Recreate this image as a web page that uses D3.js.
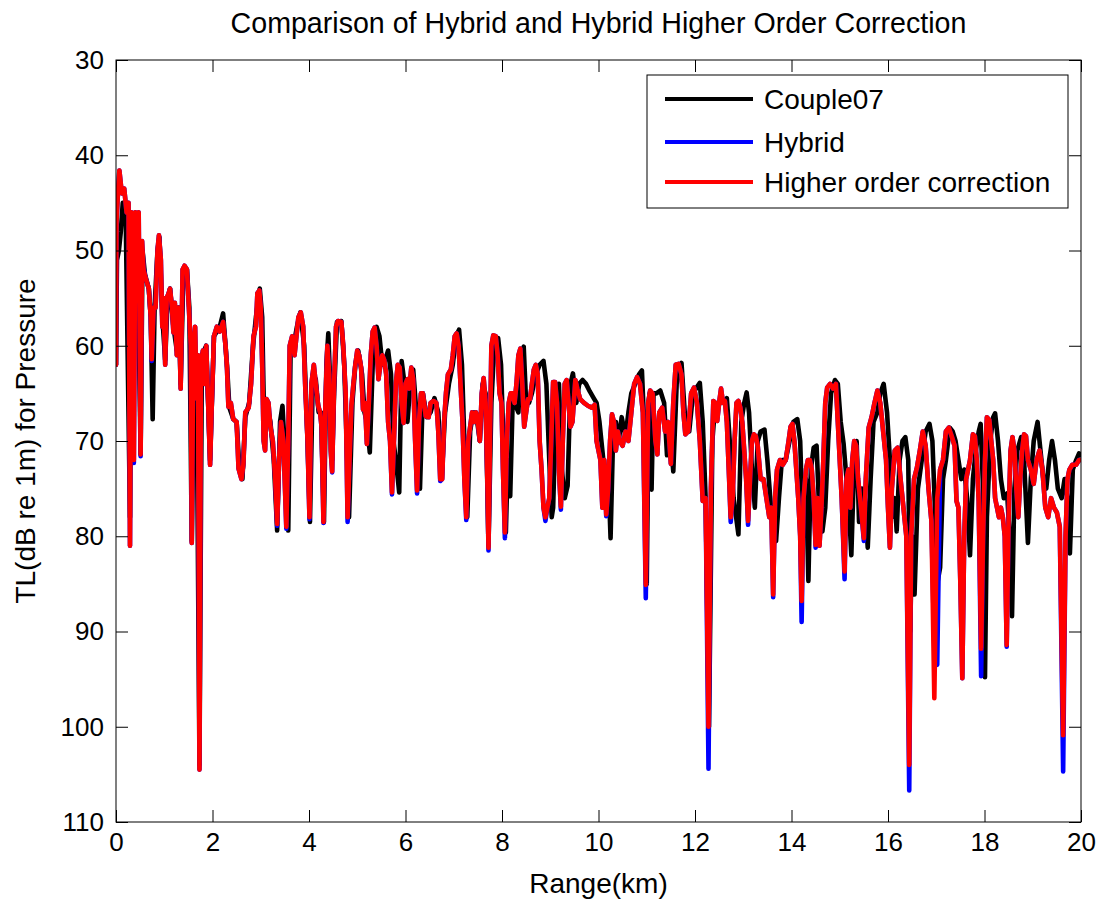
<!DOCTYPE html>
<html>
<head>
<meta charset="utf-8">
<script src="https://cdn.jsdelivr.net/npm/d3@7"></script>
<style>
  body { margin: 0; background: #fff; }
  text { font-family: "Liberation Sans", Arial, sans-serif; fill: #000; }
</style>
</head>
<body>
<div id="chart"></div>
<script>
// range samples (km) shared by the Hybrid and Higher order correction curves
var rangeKm = [
  0,0.01,0.04,0.07,0.12,0.17,0.22,0.26,0.29,0.32,
  0.35,0.37,0.40,0.44,0.47,0.51,0.54,0.57,0.62,0.68,
  0.72,0.74,0.78,0.82,0.86,0.89,0.93,0.96,0.98,1.02,
  1.05,1.09,1.12,1.16,1.19,1.22,1.26,1.29,1.31,1.34,
  1.38,1.42,1.47,1.51,1.55,1.57,1.60,1.64,1.67,1.70,
  1.73,1.76,1.80,1.83,1.87,1.91,1.95,1.98,2.03,2.09,
  2.15,2.22,2.27,2.30,2.33,2.38,2.43,
  2.50,2.54,2.60,2.64,2.68,2.75,2.80,2.85,2.90,2.93,
  2.97,3.00,3.03,3.06,3.09,3.12,3.16,3.20,3.25,3.30,
  3.34,3.38,3.42,3.47,3.53,3.57,3.60,3.65,3.70,3.74,
  3.78,3.83,3.88,3.92,3.97,4.01,4.05,4.10,4.14,4.19,
  4.23,4.26,4.30,4.34,4.38,4.42,4.45,4.48,4.52,4.56,
  4.60,4.67,4.71,4.76,4.80,4.84,4.88,
  4.92,4.96,5.00,5.04,5.08,5.12,5.16,5.20,5.24,5.28,
  5.32,5.36,5.40,5.44,5.48,5.52,5.56,5.60,5.64,5.68,
  5.72,5.76,5.80,5.84,5.88,5.92,5.96,6.00,6.04,6.08,
  6.12,6.16,6.20,6.24,6.28,6.32,6.36,6.42,6.48,6.52,
  6.58,6.64,6.68,6.72,6.76,6.80,6.84,6.88,6.94,6.98,
  7.02,7.06,7.10,7.14,7.18,7.22,7.26,7.30,7.34,7.38,
  7.42,7.46,7.50,7.54,7.58,7.62,7.66,7.70,7.72,7.75,
  7.78,7.82,7.87,7.91,7.95,7.99,8.02,8.06,8.10,8.14,
  8.18,8.22,8.26,8.30,8.34,8.38,8.42,8.46,8.50,8.54,
  8.58,8.62,8.66,8.70,8.74,8.78,8.82,8.86,8.90,8.94,
  8.98,9.02,9.06,9.10,9.14,9.18,9.22,9.26,9.30,9.34,
  9.38,9.42,9.46,9.52,9.56,9.62,9.70,9.78,9.86,
  9.92,9.96,10.00,10.04,10.08,10.12,10.16,10.20,10.24,10.28,
  10.32,10.36,10.40,10.44,10.50,10.56,10.62,10.68,10.74,10.80,
  10.86,10.92,10.98,11.03,11.07,11.12,11.18,11.22,11.26,11.32,
  11.38,11.44,11.50,11.55,11.60,11.66,11.72,11.76,11.80,11.86,
  11.92,11.98,12.04,12.10,12.16,12.22,12.28,12.33,12.38,
  12.42,12.46,12.50,12.54,12.58,12.62,12.66,12.70,12.74,12.78,
  12.82,12.86,12.90,12.94,12.98,13.02,13.06,13.10,13.14,13.18,
  13.22,13.26,13.30,13.36,13.42,13.48,13.54,13.58,13.62,13.66,
  13.70,13.76,13.82,13.88,13.94,13.98,14.02,14.06,14.10,14.14,
  14.18,14.21,14.25,14.30,14.34,14.38,14.42,14.46,14.50,14.54,
  14.58,14.62,14.66,14.70,14.74,14.80,14.86,
  14.92,14.96,15.00,15.04,15.10,15.14,15.18,15.22,15.26,15.30,
  15.34,15.38,15.44,15.50,15.54,15.60,15.66,15.72,15.78,15.84,
  15.90,15.96,16.00,16.04,16.08,16.14,16.20,16.26,16.32,16.38,
  16.44,16.48,16.54,16.60,16.66,16.72,16.78,16.84,16.90,16.96,
  17.02,17.08,17.14,17.20,17.26,17.32,
  17.38,17.42,17.46,17.50,17.54,17.58,17.62,17.66,17.70,17.76,
  17.80,17.84,17.88,17.93,17.97,18.01,18.05,18.10,18.14,18.18,
  18.22,18.26,18.30,18.34,18.38,18.42,18.46,18.50,18.54,18.58,
  18.62,18.66,18.70,18.74,18.78,18.82,18.86,18.90,18.96,19.02,
  19.08,19.14,19.20,19.26,19.32,19.38,19.44,19.50,19.56,19.63,
  19.68,19.72,19.76,19.82,19.90,19.96,20.00
];

// TL (dB re 1m), higher order correction
var higherOrder = [
  62,47,44,41.6,44,43.5,46,45,81,46,
  47,72,46,48,46,71.4,49,52,53,54,
  57,61.4,56,56,50,48.4,51,58,55,62,
  55,54.5,54,56,58.6,55.5,61,56,57,64.5,
  52,51.6,52,56,60,80.7,61,58,65.5,61,
  104.5,62,60.5,64,60,66,72.5,67,59,58,
  58.5,57.5,60,62.3,66.4,66,67.7,
  68,72.9,74,72.5,67,66.5,64,59,58,54.5,
  54.2,56,62,70,71,65.6,66,68.5,70,74,
  78.7,72,68,70,79,70,60,59,61,59,
  57,56.5,58,64,70,78,64,62,64,66.3,
  67,68.5,78.5,66,60,63,71,73.2,64,58,
  57.4,57.5,60,65,78,72,66.3,
  64,62,60.5,61,62.3,66.7,66,70.3,66,61,
  58.5,58.1,60,63.5,62,61,61.5,63,68,70,
  75.4,70,64,62,62.3,66,68.1,64,63.5,64.5,
  62.3,63.5,70,75.2,68,65,65,67.4,67.5,66,
  65.8,66,69,74,74,68,64.9,63,62.5,61,
  59,58.7,60,64,67.8,74,78,70,68.5,67,
  68,67,68,70,65,63.4,66,75,81.2,70,
  60,58.9,59,61,65,66,73,79.6,70,66,
  65,65,66,64,61,60.3,64,68.5,67,65.6,
  65.6,64,62.5,62,63,70,73,77,78,77,
  76,70,63.8,63.8,66,73,76.9,70,64,63.6,
  66,68.5,68,63.6,64.5,65.6,66,66.3,66.5,
  66.2,70,71,72,77,72,77.7,75,70,67.2,
  68,71,69,70,70.5,69,70,67,64,63.3,
  64,67,85.1,66,64.7,65,70,71.4,67,66.5,
  69,68,72.4,66,62,61.9,63,67,69.3,69,
  65,64.4,66,70,76.3,76,100,75,65.8,
  66,67.9,66,64.5,66,65.8,68,73,78,76,
  70,66,65.8,66.5,68,71,74,78.4,74,70,
  69.3,69.5,70.5,74,74,76,78,77,86.1,76,
  73,72,72.5,72,70,68.5,68.2,70,73,76,
  80,86.8,76,73,72,72,73,76,80.9,76,
  81,77,72,66,64.4,64,64.5,
  64,68,72,76,83.7,74,73,77,72,70,
  70.5,74,77,80.2,74,68.6,67.5,66,64.7,66,
  69,72,77,81.2,75,71,70.7,74,77,80,
  104,80,74,72.8,71,69,70.5,75,78.4,97,
  76,73,72,69,68.6,69.5,
  70.5,76.3,77,85,94.9,80,74,73,72,69.3,
  69.5,72,76.3,91.8,80,72,67.5,67.8,70,72,
  76,77,78,77,78,80,91.4,78,71,69.6,
  71,75,78,74,71,69.3,69.5,72,73,74.5,
  72,71,73,77,78,76,77,77.5,79,100.9,
  80,74,73,72.5,72.5,72,72
];

// TL (dB re 1m), hybrid
var hybrid = [
  62,47,44,41.6,44,43.5,46,45,81,46,
  47,72.3,46,48,46,71.6,49,51.8,53,54,
  57,61.6,56,56,50,48.4,51,58,55,62,
  55,54.5,54,56,58.6,55.5,61,56,57,64.5,
  52,51.6,52,56,60,80.7,61,58,65.5,61,
  104.5,62,60.5,64,60,66,72.5,67,59,58,
  58.5,57.5,60,62.3,66.4,66,67.7,
  68,72.9,74,72.5,67,66.5,64,59,58,54.5,
  54.2,56,62,70,71,65.6,66,68.5,70,74,
  78.9,72,68,70,79.2,70,60,59,61,59,
  57,56.5,58,64,70,78.2,64,62,64,66.3,
  67,68.5,78.6,66,60,63,71,73.3,64,58,
  57.4,57.5,60,65,78.5,72,66.3,
  64,62,60.5,61,62.3,66.7,66,70.3,66,61,
  58.5,58.1,60,63.5,62,61,61.5,63,68,70,
  75.6,70,64,62,62.3,66,68.1,64,63.5,64.5,
  62.3,63.5,70,75.5,68,65,65,67.4,67.5,66,
  65.8,66,69,74.2,74,68,64.9,63,62.5,61,
  59,58.7,60,64,67.8,74,78.3,70,68.5,67,
  68,67,68,70,65,63.4,66,75,81.5,70,
  60,58.9,59,61,65,66,73,80.2,70,66,
  65,65,66,64,61,60.3,64,68.5,67,65.6,
  65.6,64,62.5,62,63,70,73,77,78.4,77,
  76,70,63.8,63.8,66,73,77.2,70,64,63.6,
  66,68.5,68,63.6,64.5,65.6,66,66.3,66.5,
  66.2,70,71,72,77,72,77.9,75,70,67.2,
  68,71,69,70,70.5,69,70,67,64,63.3,
  64,67,86.5,66,64.7,65,70,71.4,67,66.5,
  69,68,72.4,66,62,61.9,63,67,69.3,69,
  65,64.4,66,70,76.3,76,104.4,75,65.8,
  66,67.9,66,64.5,66,65.8,68,73,78.5,76,
  70,66,65.8,66.5,68,71,74,78.8,74,70,
  69.3,69.5,70.5,74,74,76,78,77,86.4,76,
  73,72,72.5,72,70,68.5,68.2,70,73,76,
  80,89,76,73,72,72,73,76,81.2,76,
  81,77,72,66,64.4,64,64.5,
  64,68,72,76,84.5,74,73,77,72,70,
  70.5,74,77,80.5,74,68.6,67.5,66,64.7,66,
  69,72,77,81.2,75,71,70.7,74,77,80,
  106.7,80,74,72.8,71,69,70.5,75,78.4,92,
  93.5,73,72,69,68.6,69.5,
  70.5,76.3,77,85,94.9,80,74,73,72,69.3,
  69.5,72,76.3,94.7,80,72,67.5,67.8,70,72,
  76,77,78,77,78,80,91.6,78,71,69.6,
  71,75,78,74,71,69.3,69.5,72,73,74.5,
  72,71,73,77,78,76,77,77.5,79,104.7,
  80,74,73,72.5,72.5,72,72
];

// Couple07 reference solution, own range samples
var coupleKm = [
  0,0.02,0.06,0.1,0.14,0.2,0.29,0.33,0.4,0.44,
  0.51,0.55,0.6,0.68,0.72,0.76,0.8,0.86,0.9,0.96,
  1.02,1.07,1.12,1.19,1.26,1.3,1.34,1.4,1.47,1.52,
  1.57,1.62,1.68,1.73,1.78,1.87,1.95,2.03,2.15,2.22,
  2.3,2.35,2.43,
  2.5,2.56,2.62,2.68,2.76,2.84,2.9,2.98,3.03,3.07,
  3.12,3.2,3.27,3.34,3.4,3.45,3.5,3.57,3.62,3.68,
  3.75,3.82,3.9,3.97,4.02,4.08,4.14,4.2,4.25,4.31,
  4.36,4.4,4.44,4.48,4.52,4.58,4.67,4.73,4.83,4.9,
  4.96,5.02,5.1,5.15,5.2,5.26,5.32,5.4,5.46,5.52,
  5.58,5.64,5.7,5.75,5.8,5.87,5.92,5.98,6.04,6.1,
  6.16,6.24,6.3,6.36,6.44,6.52,6.6,6.68,6.75,6.82,
  6.9,6.98,7.05,7.11,7.17,7.22,7.28,7.34,7.4,
  7.46,7.54,7.6,7.66,7.72,7.78,7.84,7.92,7.98,8.04,
  8.08,8.12,8.17,8.22,8.3,8.34,8.4,8.45,8.5,8.56,
  8.62,8.7,8.78,8.86,8.92,8.98,9.03,9.06,9.12,9.18,
  9.24,9.3,9.36,9.42,9.47,9.54,9.6,9.67,9.74,9.82,
  9.9,
  9.96,10.02,10.08,10.14,10.2,10.25,10.3,10.36,10.42,10.48,
  10.56,10.62,10.68,10.76,10.84,10.9,10.96,11,11.04,11.06,
  11.1,11.14,11.2,11.28,11.36,11.42,11.5,11.55,11.62,11.72,
  11.8,11.88,11.96,12.02,12.1,12.16,12.22,12.29,12.36,12.42,
  12.48,12.54,12.6,12.66,12.72,12.8,12.9,12.96,13.02,13.07,
  13.12,13.18,13.24,13.3,13.36,13.44,13.5,13.56,13.62,13.68,
  13.74,13.8,13.88,13.96,14.04,14.12,14.18,14.24,14.3,14.35,
  14.4,14.46,14.52,14.58,14.64,14.7,14.76,14.82,14.9,14.96,
  15.02,15.08,15.14,15.2,15.24,15.3,15.35,15.4,15.46,15.52,
  15.58,15.64,15.7,15.78,15.84,15.91,15.98,16.04,16.08,16.14,
  16.18,16.24,16.3,16.36,16.42,16.46,16.5,16.55,16.62,16.7,
  16.78,16.86,16.92,16.98,17.02,17.08,17.14,17.2,17.28,17.34,
  17.4,17.46,17.52,17.58,17.64,17.7,17.76,17.82,17.88,17.92,
  17.97,18.01,18.05,18.12,18.18,18.22,18.28,18.34,18.4,18.47,
  18.52,18.57,18.62,18.68,18.76,18.82,18.9,18.96,19.02,19.1,
  19.16,19.22,19.28,19.34,19.4,19.46,19.52,19.56,19.6,19.66,
  19.72,19.77,19.83,19.9,19.96,20
];

var couple07 = [
  62,51,50,48,45,46,78,47,47,48,
  71.4,50,52.5,54,57,67.7,56,50,48.6,57,
  61.5,55,54,58,60.5,56,64,52,52,56,
  80.5,60,70,104,61,60,72,59,58,56.6,
  62,66.5,67.7,
  68,73,74,67.5,66,60,57,54,57,68,
  66,68,72,79.4,68,66.3,71,79.4,60,60,
  58,56.5,60,70,78.5,63,63.5,67,67,78.5,
  62,58.7,64,72,65,57.5,57.4,62,78,66,
  62,60.5,63,67,68,71.2,62,58,59,62,
  61.5,60.5,63,70,72,75.4,61.6,64,68,64,
  62.5,68,75,65,67.5,67,65.5,67,74,67,
  64,62,59,58.3,62,70,78,69,67,
  67,70,64,65,81,66,60,59.2,62,72,
  79.6,72,75.8,66,66.5,67,61,60.1,66,66,
  65,63,62,61.6,64,72,78,77,66,64,
  73,76,74.7,64,62.9,66,64,63.6,64,64.8,
  65.5,
  66,68,71,74,73,80.2,70,68,70,67.5,
  69.5,67,65,64,63,62.6,70,85,66,65,
  75.1,65,65,64.7,66,71.5,70,73.2,64,61.8,
  68,69,65,64.5,63.9,68,76,100,70,66,
  66.5,65.5,66,65.5,70,76,79.8,68,66,64.9,
  67,73,77,70,69,68.8,72,76,80,80.5,
  76,72,72,70,68,67.7,70,80,74,84.7,
  73,70.7,70.5,78,79.5,77,70,65,63.6,64,
  68,70.3,74,78,82,72,70,78.5,75,76,
  81.2,74,68,67,65,64,67,72,78,76,
  79.5,72,70,69.6,72,90,80,86.1,75,72,
  69,68.2,70,78,85,83.3,74,72,68.6,69,
  70,72,74,73,76,82,74,71,69,68.2,
  75,94.8,78,70,67.5,67.1,70,74,76,75.5,
  80,88.4,75,71,69.6,72,80.7,74,70,68,
  71,74,75,72,70,72,75,75.5,76,74,
  76,81.8,73,72,71.3,71.5
];

var xTicks = [0, 2, 4, 6, 8, 10, 12, 14, 16, 18, 20];
var yTicks = [30, 40, 50, 60, 70, 80, 90, 100, 110];

var seriesList = [
  { name: 'Couple07', color: '#000000', km: coupleKm, tl: couple07 },
  { name: 'Hybrid', color: '#0000ff', km: rangeKm, tl: hybrid },
  { name: 'Higher order correction', color: '#ff0000', km: rangeKm, tl: higherOrder }
];

var width = 1105,
    height = 903;
var plot = { left: 116, top: 60, right: 1081, bottom: 822 };

var svg = d3.select('#chart')
    .append('svg')
    .attr('width', width)
    .attr('height', height);

var x = d3.scaleLinear().domain([0, 20]).range([plot.left, plot.right]);
var y = d3.scaleLinear().domain([30, 110]).range([plot.top, plot.bottom]);

svg.append('clipPath')
    .attr('id', 'clip')
  .append('rect')
    .attr('x', plot.left)
    .attr('y', plot.top)
    .attr('width', plot.right - plot.left)
    .attr('height', plot.bottom - plot.top);

// curves, black first so the red one ends on top
var lines = svg.append('g').attr('clip-path', 'url(#clip)');
seriesList.forEach(function (s) {
  var line = d3.line()
      .x(function (i) { return x(s.km[i]); })
      .y(function (i) { return y(s.tl[i]); });
  lines.append('path')
      .attr('d', line(d3.range(s.km.length)))
      .attr('fill', 'none')
      .attr('stroke', s.color)
      .attr('stroke-width', 4.6)
      .attr('stroke-linejoin', 'round')
      .attr('stroke-linecap', 'round');
});

// axes, ticks pointing inwards on all four sides
var tickLen = 12;
svg.append('g')
    .attr('transform', 'translate(0,' + plot.bottom + ')')
    .call(d3.axisBottom(x).tickValues(xTicks).tickSizeInner(-tickLen).tickSizeOuter(0).tickPadding(11));
svg.append('g')
    .attr('transform', 'translate(' + plot.left + ',0)')
    .call(d3.axisLeft(y).tickValues(yTicks).tickSizeInner(-tickLen).tickSizeOuter(0).tickPadding(12));
svg.append('g')
    .attr('transform', 'translate(0,' + plot.top + ')')
    .call(d3.axisTop(x).tickValues(xTicks).tickSizeInner(-tickLen).tickSizeOuter(0).tickFormat(''));
svg.append('g')
    .attr('transform', 'translate(' + plot.right + ',0)')
    .call(d3.axisRight(y).tickValues(yTicks).tickSizeInner(-tickLen).tickSizeOuter(0).tickFormat(''));

svg.selectAll('.domain').remove();
svg.selectAll('.tick line').attr('stroke', '#000');
svg.selectAll('.tick text')
    .style('font-family', '"Liberation Sans", Arial, sans-serif')
    .style('font-size', '26px')
    .attr('fill', '#000');

svg.append('rect')
    .attr('x', plot.left)
    .attr('y', plot.top)
    .attr('width', plot.right - plot.left)
    .attr('height', plot.bottom - plot.top)
    .attr('fill', 'none')
    .attr('stroke', '#000')
    .attr('stroke-width', 1);

// title and axis labels
svg.append('text')
    .attr('x', (plot.left + plot.right) / 2)
    .attr('y', 33)
    .attr('text-anchor', 'middle')
    .style('font-size', '28.6px')
    .text('Comparison of Hybrid and Hybrid Higher Order Correction');

svg.append('text')
    .attr('x', (plot.left + plot.right) / 2)
    .attr('y', 893)
    .attr('text-anchor', 'middle')
    .style('font-size', '28px')
    .text('Range(km)');

svg.append('text')
    .attr('transform', 'translate(35,' + (plot.top + plot.bottom) / 2 + ') rotate(-90)')
    .attr('text-anchor', 'middle')
    .style('font-size', '28px')
    .text('TL(dB re 1m) for Pressure');

// legend
var legend = svg.append('g').attr('transform', 'translate(647,75)');
legend.append('rect')
    .attr('width', 421)
    .attr('height', 133)
    .attr('fill', '#fff')
    .attr('stroke', '#000')
    .attr('stroke-width', 1);

var rowY = [24, 67, 107];
var items = legend.selectAll('.item')
    .data(seriesList)
    .enter()
    .append('g')
    .attr('transform', function (d, i) { return 'translate(0,' + rowY[i] + ')'; });

items.append('line')
    .attr('x1', 18)
    .attr('x2', 106)
    .attr('stroke', function (d) { return d.color; })
    .attr('stroke-width', 4);

items.append('text')
    .attr('x', 117)
    .attr('dy', '0.35em')
    .style('font-size', '28px')
    .text(function (d) { return d.name; });
</script>
</body>
</html>
